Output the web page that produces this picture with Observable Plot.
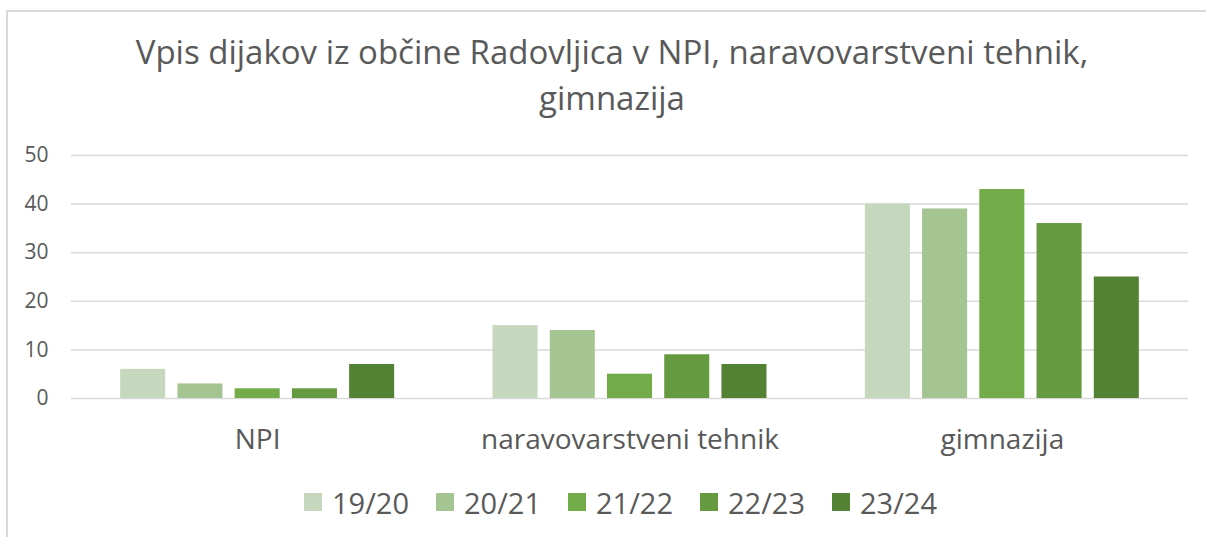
<!DOCTYPE html>
<html>
<head>
<meta charset="utf-8">
<script src="https://cdn.jsdelivr.net/npm/d3@7"></script>
<script src="https://cdn.jsdelivr.net/npm/@observablehq/plot@0.6"></script>
<style>
  html, body { margin: 0; padding: 0; background: #fff; }
  body { width: 1206px; height: 537px; position: relative; overflow: hidden; font-family: "Open Sans", sans-serif; }
  #frame { position: absolute; left: 6px; top: 10px; width: 1210px; height: 540px; border-top: 2px solid #d9d9d9; border-left: 2px solid #d9d9d9; }
  #title { position: absolute; left: 0; width: 1224px; top: 29px; text-align: center; font-size: 33px; line-height: 46px; color: #595959; }
  #chart { position: absolute; left: 0; top: 130px; }
  #legend { position: absolute; left: 304px; top: 482px; height: 40px; display: flex; align-items: center; font-size: 29px; color: #595959; }
  .item { display: flex; align-items: center; width: 132px; }
  .sw { width: 18px; height: 18px; margin-right: 10px; flex: none; }
</style>
</head>
<body>
<div id="frame"></div>
<div id="title">Vpis dijakov iz občine Radovljica v NPI, naravovarstveni tehnik,<br>gimnazija</div>
<div id="chart"></div>
<div id="legend"></div>
<script>
const categories = ["NPI", "naravovarstveni tehnik", "gimnazija"];
const years = ["19/20", "20/21", "21/22", "22/23", "23/24"];
const colors = ["#c5d7bc", "#a4c491", "#71ac48", "#659a40", "#548235"];
const v1920 = [6, 15, 40];
const v2021 = [3, 14, 39];
const v2122 = [2, 5, 43];
const v2223 = [2, 9, 36];
const v2324 = [7, 7, 25];
const yTicks = [0, 10, 20, 30, 40, 50];

const series = [v1920, v2021, v2122, v2223, v2324];
const data = [];
categories.forEach((c, i) => {
  years.forEach((y, j) => data.push({category: c, year: y, value: series[j][i]}));
});

const chart = Plot.plot({
  width: 1206,
  height: 340,
  marginLeft: 71,
  marginRight: 18,
  marginTop: 25,
  marginBottom: 72,
  style: {fontFamily: "'Open Sans', sans-serif", color: "#595959", background: "transparent"},
  fx: {domain: categories, padding: 0, round: false, label: null},
  x: {domain: years, paddingInner: 0.213, paddingOuter: 0.859, round: false, axis: null},
  y: {domain: [0, 50], ticks: yTicks, label: null},
  color: {domain: years, range: colors},
  marks: [
    Plot.gridY(yTicks, {stroke: "#d9d9d9", strokeOpacity: 1, strokeWidth: 1.5}),
    Plot.barY(data, {fx: "category", x: "year", y: "value", fill: "year"}),
    Plot.axisY(yTicks, {tickSize: 0, tickPadding: 23, fontSize: 21, fill: "#595959", label: null}),
    Plot.axisFx({anchor: "bottom", tickSize: 0, tickPadding: 31, fontSize: 28, fill: "#595959", label: null})
  ]
});
document.getElementById("chart").appendChild(chart);

const legend = document.getElementById("legend");
years.forEach((y, j) => {
  const it = document.createElement("div");
  it.className = "item";
  const sw = document.createElement("div");
  sw.className = "sw";
  sw.style.background = colors[j];
  const t = document.createElement("span");
  t.textContent = y;
  it.appendChild(sw); it.appendChild(t);
  legend.appendChild(it);
});
</script>
</body>
</html>
